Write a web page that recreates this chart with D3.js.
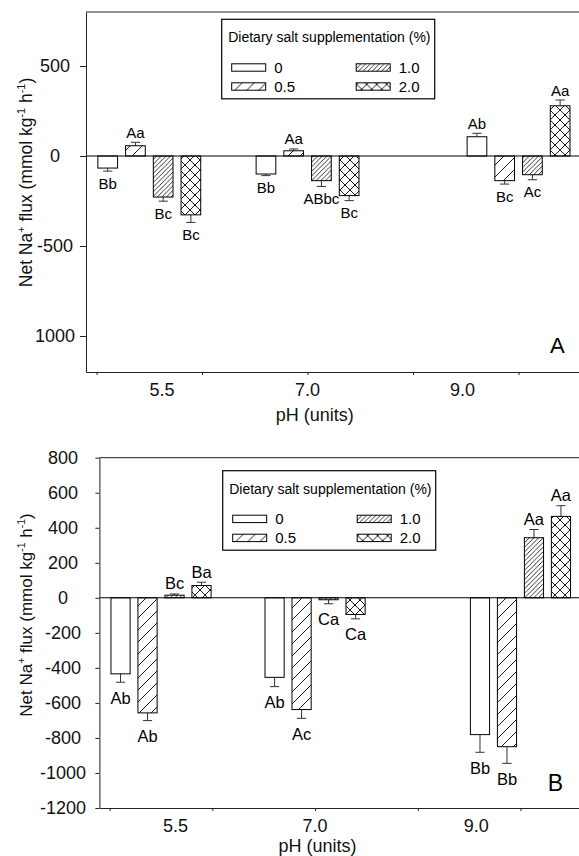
<!DOCTYPE html>
<html>
<head>
<meta charset="utf-8">
<script src="https://cdn.jsdelivr.net/npm/d3@7"></script>
<style>
  html, body { margin: 0; padding: 0; background: #fff; }
  svg { display: block; font-family: "Liberation Sans", Arial, sans-serif; }
</style>
</head>
<body>
<svg id="chart" width="579" height="856"></svg>
<script>
// ---------------- DATA ----------------
const categories = ["5.5", "7.0", "9.0"];
const phValues = [5.5, 7.0, 9.0];
const series = ["0", "0.5", "1.0", "2.0"];
const legendTitle = "Dietary salt supplementation (%)";

// Panel A: means and SE, [pH group][series]
const meansA = [
  [-67, 57, -228, -327],
  [-100, 29, -137, -220],
  [107, -137, -104, 279]
];
const seA = [
  [17, 19, 23, 42],
  [9, 10, 32, 28],
  [19, 19, 28, 32]
];
const lettersA = [
  ["Bb", "Aa", "Bc", "Bc"],
  ["Bb", "Aa", "ABbc", "Bc"],
  ["Ab", "Bc", "Ac", "Aa"]
];
const yTicksA = [500, 0, -500, -1000];
const yTickLabelsA = ["500", "0", "-500", "1000"];

// Panel B
const meansB = [
  [-434, -657, 15, 70],
  [-454, -638, -11, -95],
  [-781, -850, 343, 465]
];
const seB = [
  [48, 44, 7, 19],
  [53, 50, 23, 25],
  [101, 95, 47, 61]
];
const lettersB = [
  ["Ab", "Ab", "Bc", "Ba"],
  ["Ab", "Ac", "Ca", "Ca"],
  ["Bb", "Bb", "Aa", "Aa"]
];
const yTicksB = [800, 600, 400, 200, 0, -200, -400, -600, -800, -1000, -1200];
const yTickLabelsB = ["800", "600", "400", "200", "0", "-200", "-400", "-600", "-800", "-1000", "-1200"];

const yDomain = [-1200, 800];
const xTickValues = [5, 6, 7, 8, 9];

// ---------------- LAYOUT ----------------
const svg = d3.select("#chart");
const FONT = '"Liberation Sans", Arial, sans-serif';
const axisColor = "#222";

const panels = [
  {
    name: "A", means: meansA, se: seA, letters: lettersA,
    yTicks: yTicksA, yTickLabels: yTickLabelsA,
    left: 86, top: 12, bottom: 372, pxPerPH: 105.5,
    tickSize: 6, tickLabelX: 55, tickFont: 18,
    labelAt: [5.62, 7.0, 8.47], xLabelBase: 395.5, xTitleBase: 420.5,
    yTitleX: 31.5, yTitleY: 182.5, yTitleFont: 17.5,
    letterX: 550, letterY: 352.7, letterFont: 22,
    legendX: 221.7, legendY: 19.3,
    barLabelFont: 15, belowOff: 17.5, aboveOff: 4.5
  },
  {
    name: "B", means: meansB, se: seB, letters: lettersB,
    yTicks: yTicksB, yTickLabels: yTickLabelsB,
    left: 99.4, top: 457.7, bottom: 808, pxPerPH: 102.7,
    tickSize: 4, tickLabelX: 63, tickFont: 18,
    labelAt: [5.64, 7.0, 8.57], xLabelBase: 832, xTitleBase: 851.5,
    yTitleX: 31.5, yTitleY: 615, yTitleFont: 17,
    letterX: 547.7, letterY: 790.7, letterFont: 23,
    legendX: 222.7, legendY: 470.7,
    barLabelFont: 16.5, belowOff: 21.5, aboveOff: 4.5
  }
];

// ---------------- PATTERNS ----------------
const defs = svg.append("defs");
function diagPattern(id, p, cross, sw) {
  const pat = defs.append("pattern")
    .attr("id", id).attr("patternUnits", "userSpaceOnUse")
    .attr("width", p).attr("height", p);
  pat.append("rect").attr("width", p).attr("height", p).attr("fill", "#fff");
  let d = `M0,${p} L${p},0 M${-1},1 L1,${-1} M${p - 1},${p + 1} L${p + 1},${p - 1}`;
  if (cross) d += ` M0,0 L${p},${p} M${-1},${p - 1} L1,${p + 1} M${p - 1},${-1} L${p + 1},1`;
  pat.append("path").attr("d", d).attr("stroke", "#000").attr("stroke-width", sw).attr("fill", "none");
}
diagPattern("hatch05", 12, false, 0.9);
diagPattern("hatch10", 4.6, false, 0.8);
diagPattern("hatch20", 10, true, 0.9);
const fills = { "0": "#fff", "0.5": "url(#hatch05)", "1.0": "url(#hatch10)", "2.0": "url(#hatch20)" };

// ---------------- DRAW ----------------
panels.forEach(P => {
  const g = svg.append("g");
  const x = d3.scaleLinear().domain([4.9, 9.62]).range([P.left, P.left + 4.72 * P.pxPerPH]);
  const y = d3.scaleLinear().domain(yDomain).range([P.bottom, P.top]);
  const right = x.range()[1];

  // top border
  g.append("line").attr("x1", P.left).attr("x2", right).attr("y1", P.top).attr("y2", P.top)
    .attr("stroke", axisColor).attr("stroke-width", 1);

  // bars
  phValues.forEach((ph, gi) => {
    const band = d3.scaleBand().domain(series)
      .range([x(ph - 0.4875), x(ph + 0.4875)]).paddingInner(0.29).paddingOuter(0);
    series.forEach((s, si) => {
      const v = P.means[gi][si], e = P.se[gi][si];
      const bx = band(s), bw = band.bandwidth(), cx = bx + bw / 2;
      const y0 = y(Math.max(v, 0)), y1 = y(Math.min(v, 0));
      // error bar
      const tip = v >= 0 ? v + e : v - e;
      g.append("line").attr("x1", cx).attr("x2", cx).attr("y1", y(v)).attr("y2", y(tip))
        .attr("stroke", "#333").attr("stroke-width", 1);
      g.append("line").attr("x1", cx - 4.6).attr("x2", cx + 4.6).attr("y1", y(tip)).attr("y2", y(tip))
        .attr("stroke", "#333").attr("stroke-width", 1);
      g.append("rect").attr("x", bx).attr("y", y0).attr("width", bw).attr("height", Math.max(0.5, y1 - y0))
        .attr("fill", fills[s]).attr("stroke", "#000").attr("stroke-width", 1);
      // letter label
      g.append("text").attr("x", cx)
        .attr("y", v >= 0 ? y(tip) - P.aboveOff : y(tip) + P.belowOff)
        .attr("text-anchor", "middle").attr("font-size", P.barLabelFont).attr("fill", "#000")
        .text(P.letters[gi][si]);
    });
  });

  // zero line
  g.append("line").attr("x1", P.left).attr("x2", right).attr("y1", y(0)).attr("y2", y(0))
    .attr("stroke", "#000").attr("stroke-width", 1.1);

  // y axis
  const yAxis = d3.axisLeft(y).tickValues(P.yTicks).tickSize(P.tickSize).tickSizeOuter(0)
    .tickFormat((d, i) => P.yTickLabels[i]);
  const ya = g.append("g").attr("transform", `translate(${P.left},0)`).call(yAxis);
  ya.select(".domain").attr("stroke", axisColor);
  ya.selectAll(".tick line").attr("stroke", axisColor);
  ya.selectAll(".tick text").attr("text-anchor", "middle").attr("x", P.tickLabelX - P.left)
    .attr("font-size", P.tickFont).attr("font-family", FONT).attr("fill", "#111");

  // x axis
  const xAxis = d3.axisBottom(x).tickValues(xTickValues).tickSize(3).tickSizeOuter(0).tickFormat("");
  const xa = g.append("g").attr("transform", `translate(0,${P.bottom})`).call(xAxis);
  xa.select(".domain").attr("stroke", axisColor);
  xa.selectAll(".tick line").attr("stroke", axisColor);

  // x category labels
  categories.forEach((c, i) => {
    g.append("text").attr("x", x(P.labelAt[i])).attr("y", P.xLabelBase)
      .attr("text-anchor", "middle").attr("font-size", 18).attr("fill", "#111").text(c);
  });
  g.append("text").attr("x", (P.name === "A" ? 314.8 : 317.5)).attr("y", P.xTitleBase)
    .attr("text-anchor", "middle").attr("font-size", 18).attr("fill", "#111").text("pH (units)");

  // y title
  const yt = g.append("text").attr("transform", `translate(${P.yTitleX},${P.yTitleY}) rotate(-90)`)
    .attr("text-anchor", "middle").attr("font-size", P.yTitleFont).attr("fill", "#111");
  yt.append("tspan").text("Net Na");
  yt.append("tspan").attr("font-size", P.yTitleFont * 0.62).attr("dy", -P.yTitleFont * 0.4).text("+");
  yt.append("tspan").attr("dy", P.yTitleFont * 0.4).text(" flux (mmol kg");
  yt.append("tspan").attr("font-size", P.yTitleFont * 0.62).attr("dy", -P.yTitleFont * 0.4).text("-1");
  yt.append("tspan").attr("dy", P.yTitleFont * 0.4).text(" h");
  yt.append("tspan").attr("font-size", P.yTitleFont * 0.62).attr("dy", -P.yTitleFont * 0.4).text("-1");
  yt.append("tspan").attr("dy", P.yTitleFont * 0.4).text(")");

  // panel letter
  g.append("text").attr("x", P.letterX).attr("y", P.letterY).attr("font-size", P.letterFont)
    .attr("fill", "#000").text(P.name);

  // legend
  const lg = g.append("g").attr("transform", `translate(${P.legendX},${P.legendY})`);
  lg.append("rect").attr("x", 0).attr("y", 0).attr("width", 213).attr("height", 79.5)
    .attr("fill", "#fff").attr("stroke", "#000").attr("stroke-width", 1.2);
  lg.append("text").attr("x", 6.5).attr("y", 23).attr("font-size", 14).attr("fill", "#000").text(legendTitle);
  series.forEach((s, i) => {
    const col = Math.floor(i / 2), row = i % 2;
    const sx = 10 + col * 124.5, sy = 44.5 + row * 19;
    lg.append("rect").attr("x", sx).attr("y", sy).attr("width", 34).attr("height", 7.4)
      .attr("fill", fills[s]).attr("stroke", "#000").attr("stroke-width", 1);
    lg.append("text").attr("x", sx + 42.5).attr("y", sy + 8.8).attr("font-size", 15)
      .attr("fill", "#000").text(s);
  });
});
</script>
</body>
</html>
